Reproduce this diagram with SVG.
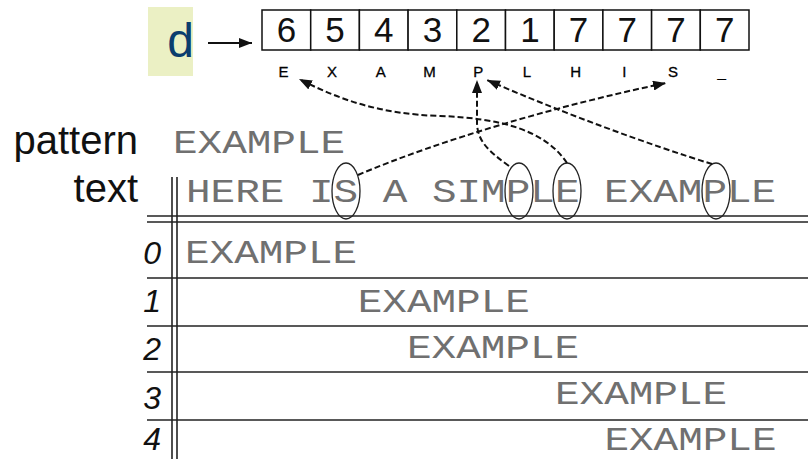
<svg xmlns="http://www.w3.org/2000/svg" width="808" height="459" viewBox="0 0 808 459">
<style>
.cell{fill:#fff;stroke:#111;stroke-width:1.5}
.dig{font-family:"Liberation Sans",Arial,sans-serif;font-size:35px;fill:#111;text-anchor:middle}
.lbl{font-family:"Liberation Sans",Arial,sans-serif;font-size:15px;fill:#000;stroke:#000;stroke-width:0.3;text-anchor:middle}
.side{font-family:"Liberation Sans",Arial,sans-serif;font-size:40px;fill:#111;text-anchor:end}
.num{font-family:"Liberation Sans",Arial,sans-serif;font-size:32px;font-style:italic;fill:#111;text-anchor:end}
.mono{font-family:"Liberation Mono","Courier New",monospace;font-size:41px;fill:#707070}
.rule{stroke:#222;stroke-width:1.6;fill:none}
.dash{stroke:#111;stroke-width:2;fill:none;stroke-dasharray:6 3;marker-end:url(#ah)}
.oval{fill:none;stroke:#222;stroke-width:1.3}
</style>
<defs>
<marker id="ah" markerUnits="userSpaceOnUse" markerWidth="14" markerHeight="10" refX="13" refY="5" orient="auto">
<path d="M0,0 L13,5 L0,10 z" fill="#111"/>
</marker>
</defs>
<rect width="808" height="459" fill="#fff"/>

<g id="d-label">
<rect x="148" y="7" width="45" height="69" fill="#ebf0c4"/>
<text x="194" y="57" font-family="Liberation Sans, Arial, sans-serif" font-size="48" fill="#0b3d6e" text-anchor="end">d</text>
</g>

<g id="table-d">
<rect class="cell" x="262" y="10" width="48.7" height="40"/>
<rect class="cell" x="310.7" y="10" width="48.7" height="40"/>
<rect class="cell" x="359.4" y="10" width="48.7" height="40"/>
<rect class="cell" x="408.1" y="10" width="48.7" height="40"/>
<rect class="cell" x="456.8" y="10" width="48.7" height="40"/>
<rect class="cell" x="505.5" y="10" width="48.7" height="40"/>
<rect class="cell" x="554.2" y="10" width="48.7" height="40"/>
<rect class="cell" x="602.9" y="10" width="48.7" height="40"/>
<rect class="cell" x="651.6" y="10" width="48.7" height="40"/>
<rect class="cell" x="700.3" y="10" width="48.7" height="40"/>
<text class="dig" x="286.4" y="42">6</text>
<text class="dig" x="335.1" y="42">5</text>
<text class="dig" x="383.8" y="42">4</text>
<text class="dig" x="432.5" y="42">3</text>
<text class="dig" x="481.2" y="42">2</text>
<text class="dig" x="529.9" y="42">1</text>
<text class="dig" x="578.6" y="42">7</text>
<text class="dig" x="627.3" y="42">7</text>
<text class="dig" x="676" y="42">7</text>
<text class="dig" x="724.7" y="42">7</text>
<text class="lbl" x="283.4" y="77">E</text>
<text class="lbl" x="332.1" y="77">X</text>
<text class="lbl" x="380.8" y="77">A</text>
<text class="lbl" x="429.5" y="77">M</text>
<text class="lbl" x="478.2" y="77">P</text>
<text class="lbl" x="526.9" y="77">L</text>
<text class="lbl" x="575.6" y="77">H</text>
<text class="lbl" x="624.3" y="77">I</text>
<text class="lbl" x="673" y="77">S</text>
<text class="lbl" x="721.7" y="77">_</text>
</g>

<g id="labels">
<text class="side" x="138" y="154">pattern</text>
<text class="side" x="138" y="202">text</text>
<text class="num" x="161" y="264">0</text>
<text class="num" x="161" y="312">1</text>
<text class="num" x="161" y="360">2</text>
<text class="num" x="161" y="409">3</text>
<text class="num" x="161" y="450">4</text>
</g>

<g id="grid">
<line class="rule" x1="172" y1="177" x2="172" y2="459"/>
<line class="rule" x1="177" y1="177" x2="177" y2="459"/>
<line class="rule" x1="147" y1="216" x2="808" y2="216"/>
<line class="rule" x1="147" y1="222" x2="808" y2="222"/>
<line class="rule" x1="147" y1="278" x2="808" y2="278"/>
<line class="rule" x1="147" y1="326" x2="808" y2="326"/>
<line class="rule" x1="147" y1="372" x2="808" y2="372"/>
<line class="rule" x1="147" y1="420" x2="808" y2="420"/>
</g>

<g id="strings">
<text class="mono" transform="translate(173,153) scale(1,0.8)">EXAMPLE</text>
<text class="mono" transform="translate(186,202) scale(1,0.8)" xml:space="preserve">HERE IS A SIMPLE EXAMPLE</text>
<text class="mono" transform="translate(185,263) scale(1,0.8)">EXAMPLE</text>
<text class="mono" transform="translate(357.7,312) scale(1,0.8)">EXAMPLE</text>
<text class="mono" transform="translate(407,358) scale(1,0.8)">EXAMPLE</text>
<text class="mono" transform="translate(555,404) scale(1,0.8)">EXAMPLE</text>
<text class="mono" transform="translate(604.4,450) scale(1,0.8)">EXAMPLE</text>
</g>

<g id="circles">
<ellipse class="oval" cx="346" cy="191" rx="14" ry="28"/>
<ellipse class="oval" cx="519" cy="191" rx="14" ry="28"/>
<ellipse class="oval" cx="567" cy="191" rx="14" ry="28"/>
<ellipse class="oval" cx="716" cy="191" rx="14" ry="28"/>
</g>

<g id="connectors">
<line x1="208" y1="43" x2="252" y2="43" stroke="#111" stroke-width="2" marker-end="url(#ah)"/>
<path class="dash" d="M358 175 C440 140,560 105,666 83"/>
<path class="dash" d="M712 164 C650 145,560 112,487 80"/>
<path class="dash" d="M567 163 C545 130,500 118,440 116 C380 114,340 100,299 79"/>
<path class="dash" d="M509 166 C490 152,477 142,477 122 L477 80"/>
</g>
</svg>
